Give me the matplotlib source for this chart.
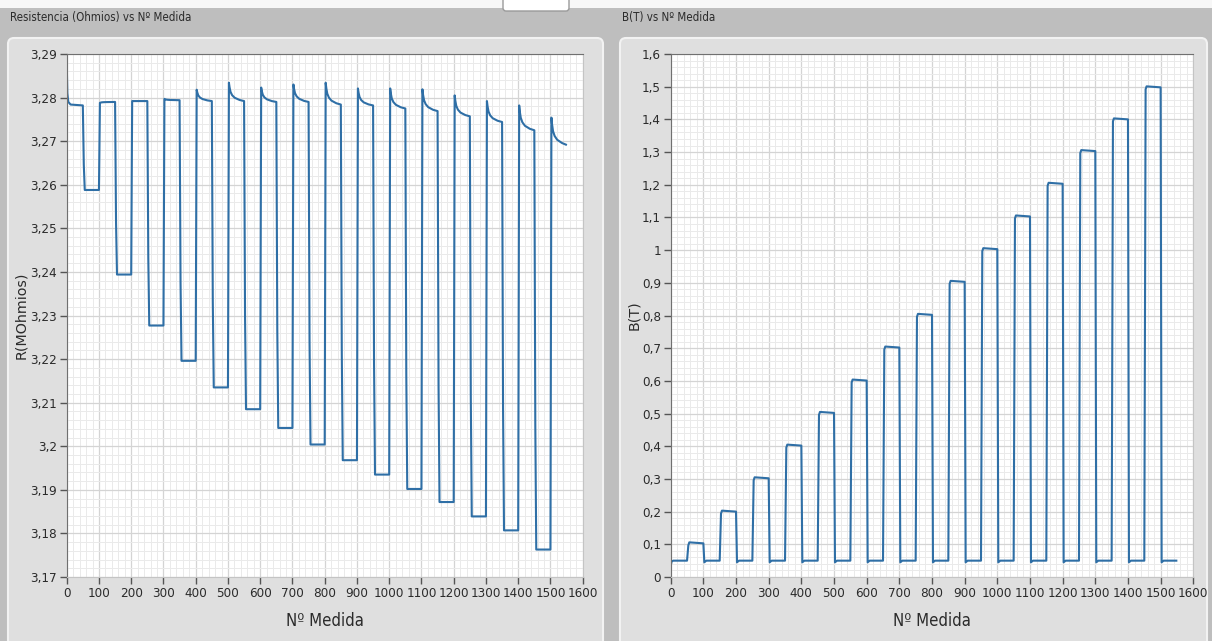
import matplotlib
matplotlib.use("Agg")
import matplotlib.pyplot as plt
from matplotlib import font_manager as fm
from matplotlib.ticker import MultipleLocator, FuncFormatter
from matplotlib.patches import FancyBboxPatch, Rectangle

# ---------------- data ----------------
pulse_start = [51, 151, 251, 351, 451, 551, 651, 751, 851, 951, 1051, 1151, 1251, 1351, 1451]
pulse_end = [101, 201, 301, 401, 501, 601, 701, 801, 901, 1001, 1101, 1201, 1301, 1401, 1501]
last_sample = 1548

R_initial_peak = 3.2882
R_initial_plateau = 3.2782
R_low = [3.2588, 3.2394, 3.2277, 3.2196, 3.2135, 3.2085, 3.2042, 3.2004,
         3.1968, 3.1935, 3.1902, 3.1872, 3.1839, 3.1807, 3.1763]
R_peak = [3.2788, 3.2792, 3.2797, 3.2818, 3.2834, 3.2823, 3.2830, 3.2834,
          3.2821, 3.2821, 3.2819, 3.2805, 3.2792, 3.2782, 3.2754]
R_plateau = [3.2790, 3.2792, 3.2794, 3.2792, 3.2792, 3.2790, 3.2790, 3.2784,
             3.2782, 3.2775, 3.2769, 3.2757, 3.2744, 3.2725, 3.2692]

B_initial = 0.035
B_base = 0.05
B_dip = 0.045
B_high = [0.103, 0.200, 0.302, 0.402, 0.502, 0.601, 0.702, 0.802,
          0.903, 1.003, 1.103, 1.203, 1.303, 1.400, 1.498]

R_title = "Resistencia (Ohmios) vs Nº Medida"
B_title = "B(T) vs Nº Medida"
x_label = "Nº Medida"
R_ylabel = "R(MOhmios)"
B_ylabel = "B(T)"

# ---------------- pick a narrow font if one is installed ----------------
def find_narrow():
    best = None
    for f in fm.fontManager.ttflist:
        st = f.stretch
        narrow = ("Narrow" in f.name or "Condensed" in f.name or "Condensed" in f.fname
                  or st in ("condensed", "semi-condensed", "extra-condensed", "ultra-condensed")
                  or (isinstance(st, (int, float)) and st < 500))
        if not narrow or f.style != "normal":
            continue
        w = f.weight if isinstance(f.weight, int) else {"normal": 400, "regular": 400, "book": 400}.get(str(f.weight).lower(), 700)
        score = abs(w - 400)
        if "Liberation" in f.name:
            score -= 50
        if best is None or score < best[0]:
            best = (score, f.fname)
    return best[1] if best else None

narrow_file = find_narrow()

def fprop(size):
    if narrow_file:
        return fm.FontProperties(fname=narrow_file, size=size)
    return fm.FontProperties(family="DejaVu Sans", size=size * 0.85)

# ---------------- build the traces ----------------
Rx, Ry = [0, 2, 5, 12], [R_initial_peak, 3.2810, 3.2790, 3.2784]
prev_plateau = R_initial_plateau
for k in range(len(pulse_start)):
    ps, pe = pulse_start[k], pulse_end[k]
    nxt = pulse_start[k + 1] if k + 1 < len(pulse_start) else last_sample + 1
    lo, pk, pl = R_low[k], R_peak[k], R_plateau[k]
    d = pk - pl
    Rx += [ps - 1, ps + 2, ps + 5, pe - 1]
    Ry += [prev_plateau, lo + 0.3 * (prev_plateau - lo), lo, lo]
    Rx += [pe + 2, pe + 4, pe + 7, pe + 12, pe + 20, pe + 35, nxt - 1]
    Ry += [pk, pl + 0.75 * d, pl + 0.5 * d, pl + 0.32 * d, pl + 0.18 * d, pl + 0.06 * d, pl]
    prev_plateau = pl

Bx, By = [0, 3, 8], [B_initial, 0.048, B_base]
for k in range(len(pulse_start)):
    ps, pe = pulse_start[k], pulse_end[k]
    nxt = pulse_start[k + 1] if k + 1 < len(pulse_start) else last_sample + 1
    hi = B_high[k]
    Bx += [ps - 1, ps + 3, ps + 6, pe - 1, pe + 2, pe + 8, nxt - 1]
    By += [B_base, hi - 0.006, hi + 0.003, hi, B_dip, B_base, B_base]

# ---------------- figure ----------------
W, H = 1212, 641
fig = plt.figure(figsize=(W / 100, H / 100), dpi=100)
fig.patch.set_facecolor("#bebebe")

bg = fig.add_axes([0, 0, 1, 1], zorder=-5)
bg.set_xlim(0, W)
bg.set_ylim(H, 0)
bg.axis("off")
bg.add_patch(Rectangle((0, 0), W, 8, facecolor="#f7f7f7", edgecolor="none"))
bg.add_patch(FancyBboxPatch((503, -6), 66, 17, boxstyle="round,pad=0,rounding_size=3",
                            facecolor="#ffffff", edgecolor="#9a9a9a", lw=1))
for x0, x1 in [(8, 603), (620, 1207)]:
    bg.add_patch(FancyBboxPatch((x0, 38), x1 - x0, H, boxstyle="round,pad=0,rounding_size=6",
                                facecolor="#dfdfdf", edgecolor="#f2f2f2", lw=1.5))
bg.text(10, 18, R_title, color="#2b2b2b", va="center", ha="left", fontproperties=fprop(8.3))
bg.text(622, 18, B_title, color="#2b2b2b", va="center", ha="left", fontproperties=fprop(8.3))

comma = FuncFormatter(lambda v, p: f"{v:g}".replace(".", ","))

def style(ax, ymin, ymax, ymaj, ymin_step, ylabel, ylab_x):
    ax.set_facecolor("white")
    ax.set_xlim(0, 1600)
    ax.set_ylim(ymin, ymax)
    ax.xaxis.set_major_locator(MultipleLocator(100))
    ax.xaxis.set_minor_locator(MultipleLocator(20))
    ax.yaxis.set_major_locator(MultipleLocator(ymaj))
    ax.yaxis.set_minor_locator(MultipleLocator(ymin_step))
    ax.xaxis.set_major_formatter(comma)
    ax.yaxis.set_major_formatter(comma)
    ax.grid(which="major", color="#d4d4d4", lw=0.9)
    ax.grid(which="minor", color="#eaeaea", lw=0.7)
    ax.set_axisbelow(True)
    ax.tick_params(which="major", direction="out", length=5, width=1, color="#555555",
                   labelcolor="#2b2b2b", pad=2)
    ax.tick_params(which="minor", length=0)
    fig.canvas.draw()
    for lab in ax.get_xticklabels() + ax.get_yticklabels():
        lab.set_fontproperties(fprop(9.6))
    for s in ["left", "top"]:
        ax.spines[s].set_color("#707070")
    for s in ["right", "bottom"]:
        ax.spines[s].set_color("#c4c4c4")
    ax.set_xlabel(x_label, color="#2b2b2b", fontproperties=fprop(12))
    ax.xaxis.set_label_coords(0.5, -0.066)
    ax.set_ylabel(ylabel, color="#2b2b2b", fontsize=10.3)
    ax.yaxis.set_label_coords(ylab_x, 0.5)

axR = fig.add_axes([66.7 / W, (H - 577) / H, 516 / W, 523 / H])
axR.plot(Rx, Ry, color="#2f6fa6", lw=1.5)
style(axR, 3.17, 3.29, 0.01, 0.002, R_ylabel, -0.074)

axB = fig.add_axes([670.7 / W, (H - 577) / H, 522.6 / W, 523 / H])
axB.plot(Bx, By, color="#2f6fa6", lw=1.5)
style(axB, 0, 1.6, 0.1, 0.02, B_ylabel, -0.056)

fig.savefig("out.png", dpi=100, facecolor=fig.get_facecolor())
